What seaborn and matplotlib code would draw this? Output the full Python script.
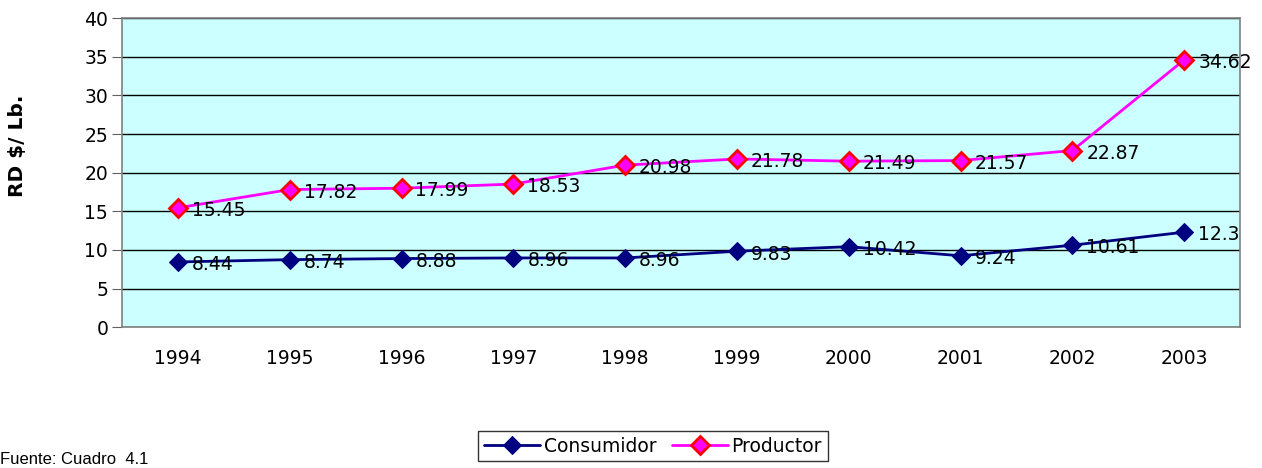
import pandas as pd
import numpy as np
import seaborn as sns
import matplotlib
matplotlib.use("Agg")
import matplotlib.pyplot as plt

## Data
years = ['1994', '1995', '1996', '1997', '1998', '1999', '2000', '2001', '2002', '2003']
consumidor = [8.44, 8.74, 8.88, 8.96, 8.96, 9.83, 10.42, 9.24, 10.61, 12.3]
productor = [15.45, 17.82, 17.99, 18.53, 20.98, 21.78, 21.49, 21.57, 22.87, 34.62]

df = pd.DataFrame({'year': years, 'pos': range(len(years)),
                   'Consumidor': consumidor, 'Productor': productor})

sns.set_style('white')
plt.rcParams['font.family'] = ['DejaVu Sans']
plt.rcParams['text.color'] = 'black'
plt.rcParams['xtick.color'] = 'black'
plt.rcParams['ytick.color'] = 'black'
plt.rcParams['axes.labelcolor'] = 'black'

fs = 13.5

fig = plt.figure(figsize=(12.62, 4.68), dpi=100)
ax = fig.add_axes([0.0967, 0.301, 0.886, 0.660])
ax.set_facecolor('#CCFFFF')

sns.lineplot(x='pos', y='Consumidor', data=df, ax=ax, color='#000080', lw=2,
             marker='D', markersize=9, markerfacecolor='#000080',
             markeredgecolor='#000080', label='Consumidor', zorder=3)
sns.lineplot(x='pos', y='Productor', data=df, ax=ax, color='#FF00FF', lw=2,
             marker='D', markersize=9, markerfacecolor='#FF00FF',
             markeredgecolor='#FF0000', markeredgewidth=2, label='Productor', zorder=3)

# data labels
for i in range(len(years)):
    ax.annotate(f'{consumidor[i]:g}', (i, consumidor[i]), xytext=(10, -2),
                textcoords='offset points', va='center', ha='left', fontsize=fs, zorder=4)
    ax.annotate(f'{productor[i]:g}', (i, productor[i]), xytext=(10, -2),
                textcoords='offset points', va='center', ha='left', fontsize=fs, zorder=4)

ax.set_xlim(-0.5, len(years) - 0.5)
ax.set_ylim(0, 40)
ax.set_yticks(range(0, 41, 5))
ax.set_xticks(range(len(years)))
ax.set_xticklabels(years)
ax.set_xticks(np.arange(-0.5, len(years), 1), minor=True)
ax.tick_params(axis='x', which='major', length=0, pad=16, labelsize=fs)
ax.tick_params(axis='x', which='minor', length=7, color='#606060')
ax.tick_params(axis='y', length=7, color='#606060', labelsize=fs, left=True, pad=3)
ax.grid(axis='y', color='black', lw=1)
ax.set_axisbelow(True)
for s in ax.spines.values():
    s.set_color('#808080')
    s.set_linewidth(1.2)

ax.set_xlabel('')
ax.set_ylabel('RD $/ Lb.', fontsize=14.5, fontweight='bold')
ax.yaxis.set_label_coords(-0.085, 0.586)

leg = ax.legend(loc='center', bbox_to_anchor=(653 / 1262, 1 - 446 / 468),
                bbox_transform=fig.transFigure, ncol=2, frameon=True, fancybox=False,
                fontsize=fs, handlelength=3, columnspacing=0.8, handletextpad=0.2,
                borderpad=0.3)
leg.get_frame().set_edgecolor('black')
leg.get_frame().set_linewidth(1)

fig.text(0.0, 1 - 460 / 468, 'Fuente: Cuadro  4.1', fontsize=12,
         family='Liberation Sans', va='center', ha='left')

plt.savefig('out.png', dpi=100)
